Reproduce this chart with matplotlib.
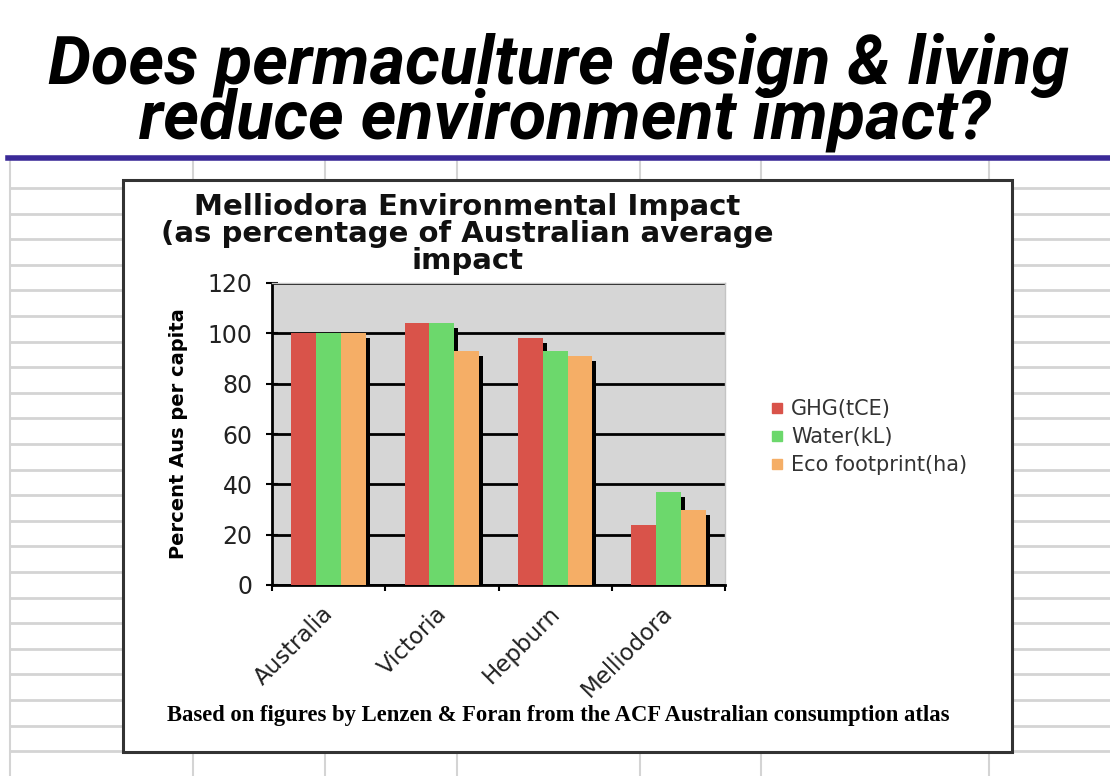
import numpy as np
import matplotlib
matplotlib.use('Agg')
import matplotlib.pyplot as plt
from matplotlib import font_manager
from matplotlib.patches import Rectangle
from matplotlib.transforms import ScaledTranslation

categories = ['Australia', 'Victoria', 'Hepburn', 'Melliodora']
series = ['GHG(tCE)', 'Water(kL)', 'Eco footprint(ha)']
ghg = [100, 104, 98, 24]
water = [100, 104, 93, 37]
eco = [100, 93, 91, 30]
yticks = [0, 20, 40, 60, 80, 100, 120]

colors = ['#d9534a', '#6cd86c', '#f5ae66']
W, H = 1110, 776

names = {f.name for f in font_manager.fontManager.ttflist}
title_family = 'Roboto' if 'Roboto' in names else 'Liberation Sans'

fig = plt.figure(figsize=(W / 100, H / 100), dpi=100)
fig.patch.set_facecolor('white')

# slide background: spreadsheet grid, blue rule, chart box
bg = fig.add_axes([0, 0, 1, 1], zorder=0)
bg.set_xlim(0, W)
bg.set_ylim(H, 0)
bg.axis('off')
for y in np.arange(188, H, 25.6):
    bg.plot([10, W], [y, y], color='#d4d4d4', lw=2, solid_capstyle='butt')
for x in [10, 193, 325, 457, 640, 761, 989]:
    bg.plot([x, x], [160, H], color='#d4d4d4', lw=1.5)
bg.plot([8, W], [158, 158], color='#3b2a98', lw=4)
bg.add_patch(Rectangle((123, 180), 889, 572, facecolor='white',
                       edgecolor='#333333', lw=2.2, zorder=3))

t1 = fig.text(0.503, 1 - 84 / H, 'Does permaculture design & living',
              ha='center', va='baseline', fontsize=46, fontweight='bold',
              fontstyle='italic', family=title_family)
t2 = fig.text(0.509, 1 - 139 / H, 'reduce environment impact?',
              ha='center', va='baseline', fontsize=46, fontweight='bold',
              fontstyle='italic', family=title_family)
# fit the first title line to the width it has on the slide
r = fig.canvas.get_renderer()
w1 = t1.get_window_extent(r).width
size = min(50, 46 * 1020 / w1)
t1.set_fontsize(size)
t2.set_fontsize(size)

# chart
ax = fig.add_axes([272 / W, 1 - 585 / H, (725 - 272) / W, (585 - 283) / H], zorder=4)
ax.set_facecolor('#d6d6d6')
x = np.arange(len(categories))
bw = 0.22
offsets = [-bw, 0, bw]
for vals, off, c in zip([ghg, water, eco], offsets, colors):
    vals = np.array(vals)
    ax.bar(x + off + 0.035, vals - 2, width=bw, color='black', zorder=2)
    ax.bar(x + off, vals, width=bw, color=c, zorder=3)

ax.set_xlim(-0.5, 3.5)
ax.set_ylim(0, 120)
ax.set_yticks(yticks)
ax.yaxis.grid(True, color='black', lw=2)
ax.set_axisbelow(True)
ax.tick_params(axis='y', labelsize=17, length=8, width=1.5, direction='inout',
               pad=10, labelcolor='#222222')
ax.set_xticks(x)
ax.set_xticklabels(categories, rotation=45, ha='right', rotation_mode='anchor',
                   fontsize=16.5, color='#222222')
ax.tick_params(axis='x', which='major', length=0, pad=12)
shift = ScaledTranslation(-0.07, 0, fig.dpi_scale_trans)
for lab in ax.get_xticklabels():
    lab.set_transform(lab.get_transform() + shift)
ax.set_xticks([-0.5, 0.5, 1.5, 2.5, 3.5], minor=True)
ax.tick_params(axis='x', which='minor', length=4, width=1.5)
for s in ['left', 'bottom']:
    ax.spines[s].set_color('black')
    ax.spines[s].set_linewidth(2)
for s in ['top', 'right']:
    ax.spines[s].set_color('#c4c4c4')
    ax.spines[s].set_linewidth(1)
ax.set_ylabel('Percent Aus per capita', fontsize=14, fontweight='bold', labelpad=14)

fig.text(467 / W, 1 - 234 / H,
         'Melliodora Environmental Impact\n(as percentage of Australian average\nimpact',
         ha='center', va='center', fontsize=21, fontweight='bold', linespacing=0.96,
         color='#111111')

handles = [plt.Line2D([], [], marker='s', ls='', color=c, markersize=7) for c in colors]
fig.legend(handles, series, loc='upper left', bbox_to_anchor=(760 / W, 1 - 391 / H),
           frameon=False, fontsize=15, handletextpad=0.3, handlelength=0.8,
           labelspacing=0.38, borderaxespad=0, labelcolor='#333333')

fig.text(558 / W, 1 - 716 / H,
         'Based on figures by Lenzen & Foran from the ACF Australian consumption atlas',
         ha='center', va='center', fontsize=16.3, fontweight='bold',
         family='Liberation Serif')

fig.savefig('out.png', dpi=100)
